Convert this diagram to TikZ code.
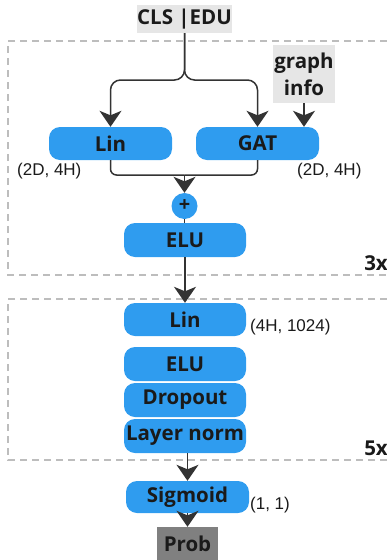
\documentclass[tikz,border=0pt]{standalone}
\usepackage{fontspec}
\setmainfont{Open Sans}
\newfontfamily\labelfont{Liberation Sans}
\usetikzlibrary{arrows.meta}
\definecolor{blu}{HTML}{2F9CEF}
\definecolor{lgray}{HTML}{E6E6E6}
\definecolor{dgray}{HTML}{808080}
\definecolor{ink}{HTML}{1A1A1A}
\definecolor{wire}{HTML}{333333}
\definecolor{dash}{HTML}{BDBDBD}
\tikzset{
  blk/.style={fill=blu, rounded corners=11pt, minimum width=122pt, minimum height=33pt, inner sep=0pt,
    text=ink, font=\fontsize{20.5}{23}\selectfont\bfseries},
  gbox/.style={fill=lgray, inner sep=0pt, text=ink, font=\fontsize{20.5}{23}\selectfont\bfseries},
  lbl/.style={text=ink, inner sep=0pt, font=\labelfont\fontsize{17}{19}\selectfont},
  wireline/.style={draw=wire, line width=1.5pt},
  arr/.style={wireline, -{Stealth[length=16pt,width=22pt,inset=4.5pt]}},
  dashline/.style={draw=dash, line width=1.3pt, dash pattern=on 7pt off 5pt},
  rep/.style={text=ink, inner sep=0pt, font=\fontsize{20.5}{23}\selectfont\bfseries},
}
\begin{document}
\begin{tikzpicture}[x=1pt,y=-1pt]
\useasboundingbox (0,0) rectangle (387,560);
% dashed frames
\draw[dashline] (387,41) -- (8,41) -- (8,275) -- (387,275);
\draw[dashline] (387,299) -- (8,299) -- (8,460) -- (387,460);
\node[rep, anchor=east] (r3) at (388,263) {3x};
\node[rep, anchor=east] (r5) at (388,448) {5x};
% nodes
\node[gbox, minimum width=95pt, minimum height=28pt] (cls) at (184.5,19) {CLS |EDU};
\node[gbox, minimum width=62pt, minimum height=58pt, align=center, font=\fontsize{20.5}{27}\selectfont\bfseries] (ginfo) at (304,74) {graph\\info};
\node[blk, minimum width=123pt] (lin) at (110.5,143.5) {Lin};
\node[blk, minimum width=123pt] (gat) at (257.5,143.5) {GAT};
\node[circle, fill=blu, minimum size=26pt, inner sep=0pt, text=ink, font=\fontsize{20}{22}\selectfont\bfseries] (plus) at (184.5,206) {+};
\node[blk, minimum height=34pt] (elu) at (185,240) {ELU};
\node[blk] (lin2) at (185,319.5) {Lin};
\node[blk, minimum height=34pt] (elu2) at (185,364) {ELU};
\node[blk, minimum height=34pt] (drop) at (185,400) {Dropout};
\node[blk, minimum height=34pt] (ln) at (185,436) {Layer norm};
\node[blk, minimum width=123pt, minimum height=32pt] (sig) at (187.5,497) {Sigmoid};
\node[fill=dgray, minimum width=61pt, minimum height=34pt, inner sep=0pt, text=ink, font=\fontsize{20.5}{23}\selectfont\bfseries] (prob) at (187.5,544) {Prob};
% labels
\node[lbl, anchor=west] (l1) at (17,171) {(2D, 4H)};
\node[lbl, anchor=west] (l2) at (297,171) {(2D, 4H)};
\node[lbl, anchor=west] (l3) at (250,327) {(4H, 1024)};
\node[lbl, anchor=west] (l4) at (250,505) {(1, 1)};
% connectors
\coordinate (split) at (184.5,80);
\draw[arr, rounded corners=10pt] (cls.south) -- (split) -| (lin.north);
\draw[arr, rounded corners=10pt] (cls.south) -- (split) -| (gat.north);
\draw[arr] (ginfo.south) -- (ginfo.south |- gat.north);
\coordinate (merge) at (184.5,175);
\draw[wireline, rounded corners=6pt] (lin.south) |- (merge);
\draw[wireline, rounded corners=6pt] (gat.south) |- (merge);
\draw[arr] (merge) -- (plus.north);
\draw[wireline] (plus.south) -- (plus.south |- elu.north);
\draw[arr] (elu.south) -- (elu.south |- lin2.north);
\draw[arr] (sig.north |- ln.south) -- (sig.north);
\draw[arr] (sig.south) -- (prob.north);
\end{tikzpicture}
\end{document}
